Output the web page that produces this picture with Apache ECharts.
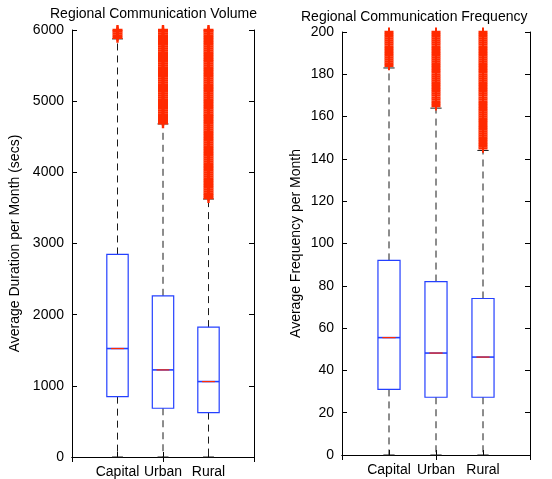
<!DOCTYPE html>
<html>
<head>
<meta charset="utf-8">
<script src="https://cdn.jsdelivr.net/npm/echarts@6/dist/echarts.min.js"></script>
<style>
html,body{margin:0;padding:0;background:#fff;}
#chart{width:552px;height:479px;}
</style>
</head>
<body>
<div id="chart"></div>
<script>
// ---- data ----
const categories = ['Capital', 'Urban', 'Rural'];

// Left panel: Average Duration per Month (secs)
const volMin = [0, 0, 0];
const volQ1 = [848, 685, 624];
const volMedian = [1524, 1224, 1060];
const volQ3 = [2846, 2265, 1825];
const volMax = [5875, 4680, 3625];
const volOutCapital = [5890, 5920, 5950, 5980, 6000];
const volOutUrban = [4690, 4720, 4750, 4780, 4810, 4840, 4870, 4900, 4930, 4960, 4990, 5020, 5050, 5080, 5110, 5140, 5170, 5200, 5230, 5260, 5290, 5320, 5350, 5380, 5410, 5440, 5470, 5500, 5530, 5560, 5590, 5620, 5650, 5680, 5710, 5740, 5770, 5800, 5830, 5860, 5890, 5920, 5950, 5980, 6000];
const volOutRural = [3640, 3670, 3700, 3730, 3760, 3790, 3820, 3850, 3880, 3910, 3940, 3970, 4000, 4030, 4060, 4090, 4120, 4150, 4180, 4210, 4240, 4270, 4300, 4330, 4360, 4390, 4420, 4450, 4480, 4510, 4540, 4570, 4600, 4630, 4660, 4690, 4720, 4750, 4780, 4810, 4840, 4870, 4900, 4930, 4960, 4990, 5020, 5050, 5080, 5110, 5140, 5170, 5200, 5230, 5260, 5290, 5320, 5350, 5380, 5410, 5440, 5470, 5500, 5530, 5560, 5590, 5620, 5650, 5680, 5710, 5740, 5770, 5800, 5830, 5860, 5890, 5920, 5950, 5980, 6000];

// Right panel: Average Frequency per Month
const freqMin = [0, 0, 0];
const freqQ1 = [31, 27.3, 27.3];
const freqMedian = [55.5, 48.2, 46.3];
const freqQ3 = [92, 82, 74];
const freqMax = [183, 164, 144];
const freqOutCapital = [184, 185, 186, 187, 188, 189, 190, 191, 192, 193, 194, 195, 196, 197, 198, 199, 200];
const freqOutUrban = [165, 166, 167, 168, 169, 170, 171, 172, 173, 174, 175, 176, 177, 178, 179, 180, 181, 182, 183, 184, 185, 186, 187, 188, 189, 190, 191, 192, 193, 194, 195, 196, 197, 198, 199, 200];
const freqOutRural = [145, 146, 147, 148, 149, 150, 151, 152, 153, 154, 155, 156, 157, 158, 159, 160, 161, 162, 163, 164, 165, 166, 167, 168, 169, 170, 171, 172, 173, 174, 175, 176, 177, 178, 179, 180, 181, 182, 183, 184, 185, 186, 187, 188, 189, 190, 191, 192, 193, 194, 195, 196, 197, 198, 199, 200];

const volTicks = { min: 0, max: 6000, interval: 1000 };
const freqTicks = { min: 0, max: 200, interval: 20 };

// ---- build ----
const FONT = '"Liberation Sans", Arial, Helvetica, sans-serif';
const xCats = [''].concat(categories).concat(['']);
const RED = '#ff2a00';
const BLUE = '#2440ff';
const WHISK = '#1a1a1a';

function boxData(mn, q1, md, q3, mx) {
  return categories.map((c, i) => [i + 1, mn[i], q1[i], md[i], q3[i], mx[i]]);
}
function outData(idx, arr) { return arr.map(v => [idx, v]); }

function renderBox(params, api) {
  const x = api.value(0);
  const pMin = api.coord([x, api.value(1)]);
  const pQ1 = api.coord([x, api.value(2)]);
  const pMed = api.coord([x, api.value(3)]);
  const pQ3 = api.coord([x, api.value(4)]);
  const pMax = api.coord([x, api.value(5)]);
  const band = api.coord([2, 0])[0] - api.coord([1, 0])[0];
  const hw = band * 0.235;
  const cw = band * 0.12;
  const cx = pQ1[0];
  const dash = { stroke: WHISK, lineWidth: 1, lineDash: [7, 5], fill: null };
  return {
    type: 'group',
    children: [
      { type: 'line', shape: { x1: cx, y1: pQ3[1], x2: cx, y2: pMax[1] }, style: dash },
      { type: 'line', shape: { x1: cx, y1: pQ1[1], x2: cx, y2: pMin[1] }, style: dash },
      { type: 'line', shape: { x1: cx - cw, y1: pMax[1], x2: cx + cw, y2: pMax[1] }, style: { stroke: WHISK, lineWidth: 1 } },
      { type: 'line', shape: { x1: cx - cw, y1: pMin[1], x2: cx + cw, y2: pMin[1] }, style: { stroke: WHISK, lineWidth: 1 } },
      { type: 'rect', shape: { x: cx - hw, y: pQ3[1], width: 2 * hw, height: pQ1[1] - pQ3[1] }, style: { stroke: BLUE, lineWidth: 1.2, fill: null } },
      { type: 'line', shape: { x1: cx - hw, y1: pMed[1], x2: cx + hw, y2: pMed[1] }, style: { stroke: BLUE, lineWidth: 1.6 } },
      { type: 'line', shape: { x1: cx - hw * 0.6, y1: pMed[1], x2: cx + hw * 0.6, y2: pMed[1] }, style: { stroke: RED, lineWidth: 1.2 } }
    ]
  };
}

const PLUS_THICK = 'path://M0,3.8H3.8V0H6.2V3.8H10V6.2H6.2V10H3.8V6.2H0Z';
const PLUS_THIN = 'path://M0,3.7H3.9V0H6.1V3.7H10V6.3H6.1V10H3.9V6.3H0Z';

function xAxes(gi) {
  const common = {
    type: 'category', data: xCats, boundaryGap: false, gridIndex: gi,
    axisLine: { show: true, lineStyle: { color: '#000', width: 1 } },
    axisTick: { show: true, inside: true, length: 5, lineStyle: { color: '#000' } },
    splitLine: { show: false }
  };
  return [
    Object.assign({}, common, { position: 'bottom', axisLabel: { show: true, color: '#000', fontSize: 14, fontFamily: FONT, margin: 8, interval: 0 } }),
    Object.assign({}, common, { position: 'top', axisLabel: { show: false } })
  ];
}
function yAxes(gi, t, name, gap) {
  const common = {
    type: 'value', gridIndex: gi, min: t.min, max: t.max, interval: t.interval,
    axisLine: { show: true, lineStyle: { color: '#000', width: 1 } },
    axisTick: { show: true, inside: true, length: 5, lineStyle: { color: '#000' } },
    splitLine: { show: false }
  };
  return [
    Object.assign({}, common, {
      position: 'left', name: name, nameLocation: 'middle', nameGap: gap, nameRotate: 90,
      nameTextStyle: { color: '#000', fontSize: 14, fontFamily: FONT },
      axisLabel: { show: true, color: '#000', fontSize: 14, fontFamily: FONT, margin: 8, formatter: v => String(v) }
    }),
    Object.assign({}, common, { position: 'right', axisLabel: { show: false } })
  ];
}

const option = {
  animation: false,
  backgroundColor: '#fff',
  textStyle: { fontFamily: FONT },
  graphic: [
    { type: 'text', left: 50, top: 7, style: { text: 'Regional Communication Volume', font: '14px ' + FONT, fill: '#000' } },
    { type: 'text', left: 301, top: 10, style: { text: 'Regional Communication Frequency', font: '14px ' + FONT, fill: '#000' } }
  ],
  grid: [
    { left: 72, top: 30, width: 182, height: 427 },
    { left: 342, top: 32, width: 188, height: 423 }
  ],
  xAxis: xAxes(0).concat(xAxes(1)),
  yAxis: yAxes(0, volTicks, 'Average Duration per Month (secs)', 50).concat(yAxes(1, freqTicks, 'Average Frequency per Month', 39)),
  series: [
    { type: 'custom', xAxisIndex: 0, yAxisIndex: 0, renderItem: renderBox, data: boxData(volMin, volQ1, volMedian, volQ3, volMax), clip: false, z: 2 },
    { type: 'scatter', xAxisIndex: 0, yAxisIndex: 0, symbol: PLUS_THICK, symbolSize: 10, clip: false, itemStyle: { color: RED, opacity: 1 }, z: 3,
      data: outData(1, volOutCapital).concat(outData(2, volOutUrban)).concat(outData(3, volOutRural)) },
    { type: 'custom', xAxisIndex: 2, yAxisIndex: 2, renderItem: renderBox, data: boxData(freqMin, freqQ1, freqMedian, freqQ3, freqMax), clip: false, z: 2 },
    { type: 'scatter', xAxisIndex: 2, yAxisIndex: 2, symbol: PLUS_THIN, symbolSize: 9, clip: false, itemStyle: { color: RED, opacity: 1 }, z: 3,
      data: outData(1, freqOutCapital).concat(outData(2, freqOutUrban)).concat(outData(3, freqOutRural)) }
  ]
};

const chart = echarts.init(document.getElementById('chart'), null, { renderer: 'canvas' });
chart.setOption(option);
</script>
</body>
</html>
